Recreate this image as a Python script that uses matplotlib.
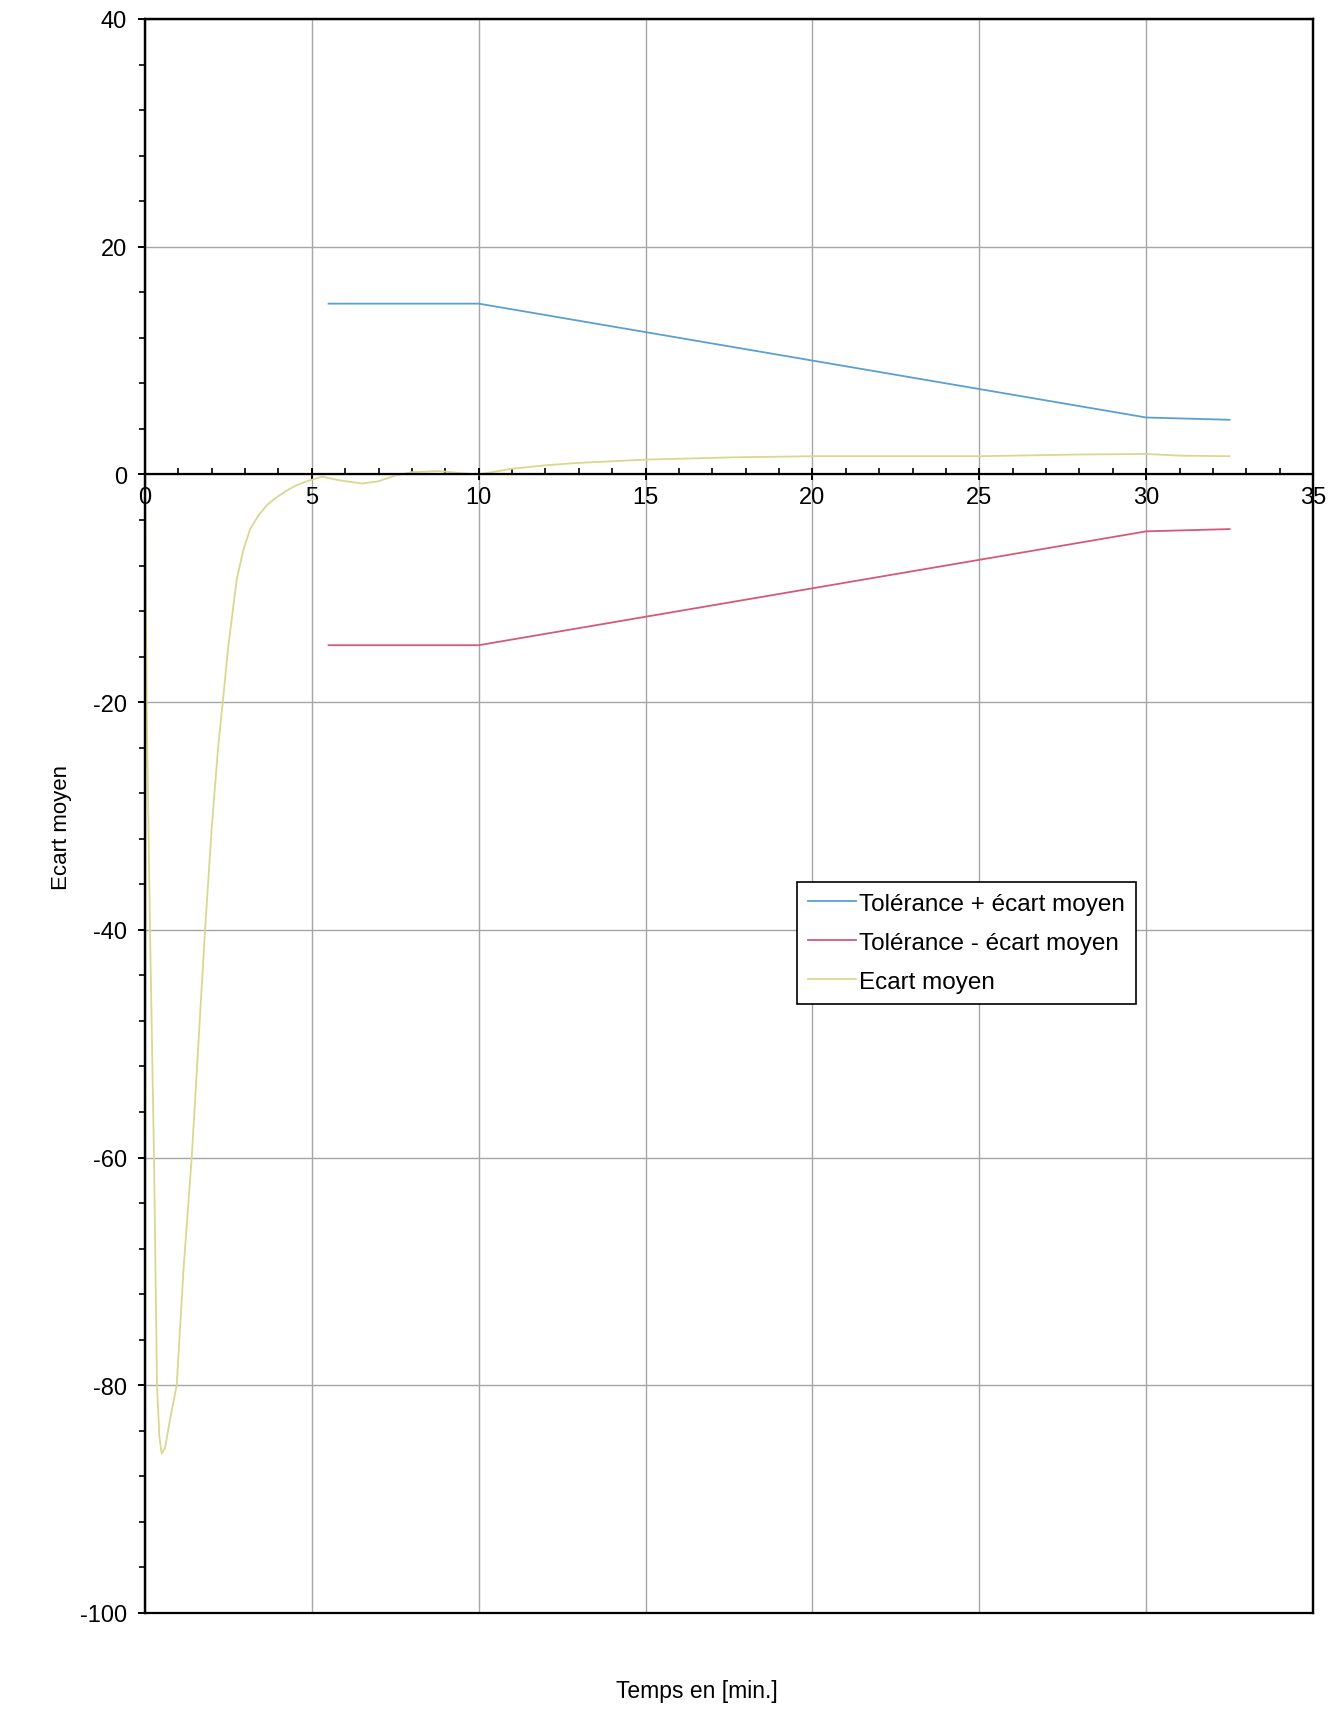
import matplotlib
matplotlib.use("Agg")
import matplotlib.pyplot as plt
from matplotlib.ticker import MultipleLocator

plt.rcParams['font.family'] = ['Liberation Sans', 'DejaVu Sans']
plt.rcParams['axes.unicode_minus'] = False

# ---- data ----
tol_x = [5.5, 10, 30, 32.5]
tol_plus = [15, 15, 5, 4.8]
tol_minus = [-15, -15, -5, -4.8]

ecart_x = [0, 0.05, 0.15, 0.27, 0.36, 0.43, 0.5, 0.6, 0.75, 0.95, 1.15, 1.4, 1.6,
           1.8, 2.0, 2.19, 2.33, 2.5, 2.75, 2.95, 3.15, 3.4, 3.65, 3.9, 4.2, 4.5,
           4.85, 5.3, 5.8, 6.5, 7.0, 7.5, 8.0, 8.8, 9.5, 10, 11, 12, 12.9, 15,
           17.6, 20, 23, 25, 28, 30, 31, 32.5]
ecart_y = [0, -20, -40, -60, -80, -84.5, -86, -85.5, -83, -80, -70, -60, -50,
           -40, -31, -24, -20, -15, -9.2, -6.6, -4.8, -3.6, -2.7, -2.1, -1.5, -1.0,
           -0.6, -0.2, -0.5, -0.8, -0.6, -0.1, 0.2, 0.3, 0.1, 0.0, 0.5, 0.8, 1.0, 1.3,
           1.5, 1.6, 1.6, 1.6, 1.75, 1.8, 1.65, 1.6]

labels = ["Tolérance + écart moyen", "Tolérance - écart moyen", "Ecart moyen"]
colors = ["#5aa0d0", "#d35a78", "#d8d890"]

W, H = 1330, 1715
fig = plt.figure(figsize=(W / 100, H / 100), dpi=100)
L, R, T, B = 145, 1313, 20, 1614
ax = fig.add_axes([L / W, 1 - B / H, (R - L) / W, (B - T) / H])

ax.plot(tol_x, tol_plus, color=colors[0], lw=1.3, label=labels[0])
ax.plot(tol_x, tol_minus, color=colors[1], lw=1.3, label=labels[1])
ax.plot(ecart_x, ecart_y, color=colors[2], lw=1.3, label=labels[2])

ax.set_xlim(0, 35)
ax.set_ylim(-100, 40)
ax.xaxis.set_major_locator(MultipleLocator(5))
ax.xaxis.set_minor_locator(MultipleLocator(1))
ax.yaxis.set_major_locator(MultipleLocator(20))
ax.yaxis.set_minor_locator(MultipleLocator(4))

ax.grid(True, which='major', color='#a6a6a6', lw=1.0)
ax.set_axisbelow(True)

ax.spines['bottom'].set_position(('data', 0))
for s in ax.spines.values():
    s.set_linewidth(1.6)
    s.set_color('black')

ax.tick_params(axis='x', which='major', direction='inout', length=9, width=1.4,
               labelsize=17, pad=4)
ax.tick_params(axis='x', which='minor', direction='in', length=4.5, width=1.2)
ax.tick_params(axis='y', which='major', direction='out', length=5, width=1.4,
               labelsize=17, pad=8)
ax.tick_params(axis='y', which='minor', direction='out', length=4, width=1.2)

# frame around the plot area
frame = ax.twiny()
frame.set_xticks([])
frame.tick_params(top=False, labeltop=False, bottom=False, labelbottom=False)
for s in frame.spines.values():
    s.set_linewidth(1.6)
    s.set_color('black')

leg = ax.legend(loc='upper left', bbox_to_anchor=(0.558, 0.4586), borderaxespad=0,
                fontsize=17.5, handlelength=2.0, handletextpad=0.1, borderpad=0.45,
                labelspacing=0.7, fancybox=False, framealpha=1, edgecolor='black')
leg.get_frame().set_linewidth(1.2)
for line in leg.get_lines():
    line.set_linewidth(1.3)

fig.text(62 / W, 1 - 828 / H, "Ecart moyen", rotation=90, ha='center', va='center',
         fontsize=16)
fig.text(697 / W, 1 - 1692 / H, "Temps en [min.]", ha='center', va='center',
         fontsize=16.5)

fig.savefig("out.png", dpi=100)
